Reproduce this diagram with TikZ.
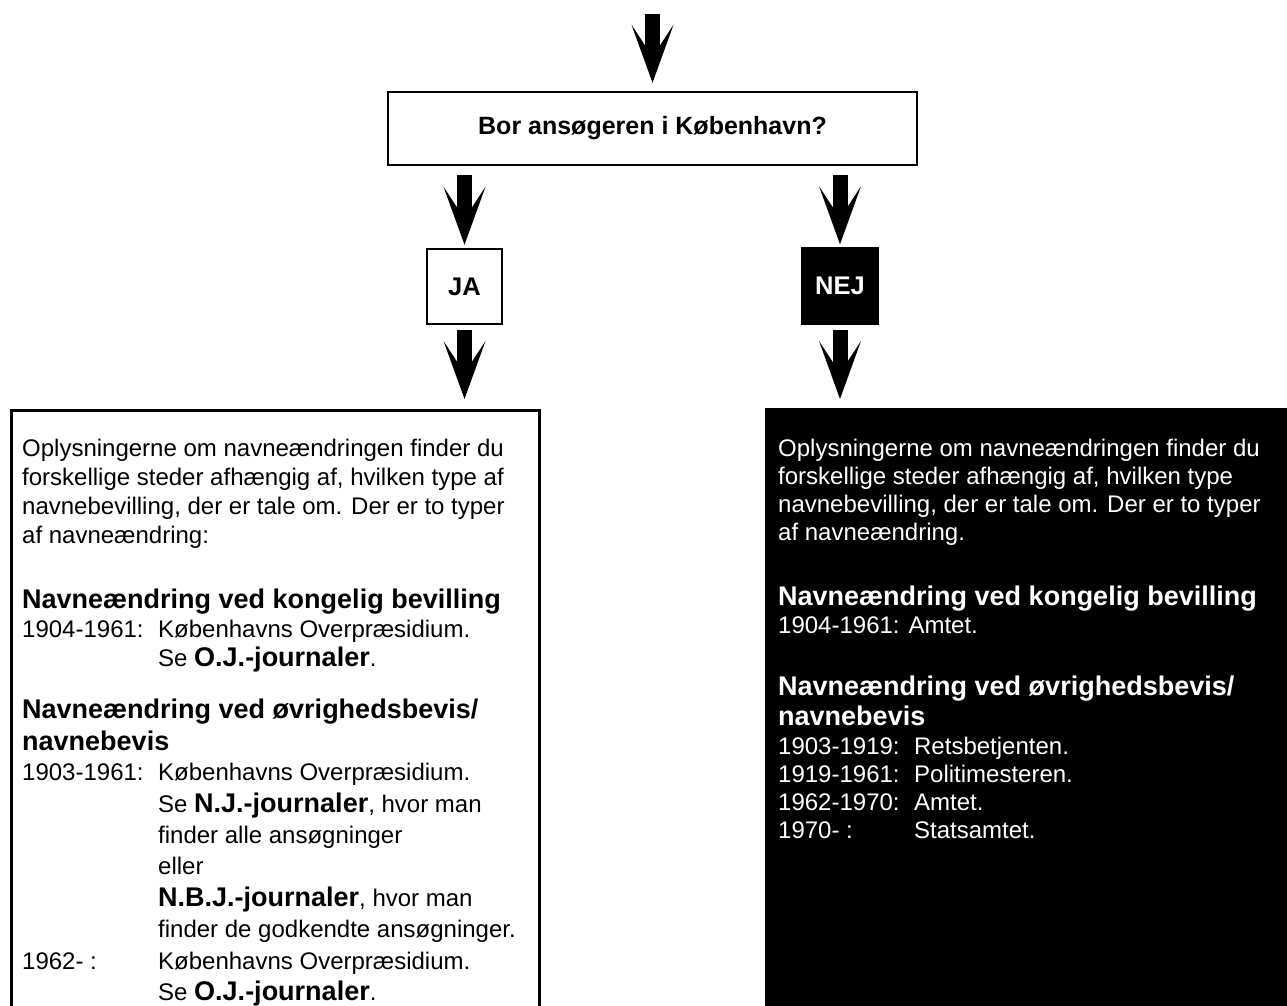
\documentclass[tikz,border=0pt]{standalone}
\usepackage{fontspec}
\setmainfont{Liberation Sans}
\usetikzlibrary{positioning,arrows.meta}

\newcommand{\yearcol}[1]{\makebox[136pt][l]{#1}}
\newcommand{\headtxt}{\fontsize{27}{30}\selectfont\bfseries}
\newcommand{\bodytxt}{\fontsize{24}{29}\selectfont}

\begin{document}
\begin{tikzpicture}[x=1pt,y=1pt,
    question/.style={draw, line width=2.5pt, minimum width=529pt, minimum height=73pt, font=\fontsize{25}{28}\selectfont\bfseries},
    answer/.style={draw, line width=2.5pt, minimum width=75pt, minimum height=75pt, inner sep=0pt, font=\fontsize{25.5}{28}\selectfont\bfseries},
    infobox/.style={anchor=north west, minimum width=528pt, minimum height=640pt, line width=2.5pt},
    infotext/.style={anchor=north west, inner sep=0pt, align=left, font=\bodytxt},
    fatarrow/.style={line width=15pt, -{Stealth[length=58pt, width=42pt, inset=32pt, line width=0pt]}}
  ]
  \clip (0,0) rectangle (1287,-1006);

  \node[question] (qbox) at (652.5,-128.5) {Bor ansøgeren i København?};
  \coordinate (start) at (652.5,-14);

  \node[answer] (ja) at (464.5,-286.5) {JA};
  \node[answer, fill=black, text=white] (nej) at (840,-286) {NEJ};

  \node[infobox, draw] (jainfo) at (10,-409) {};
  \node[infobox, fill=black, minimum width=540pt] (nejinfo) at (764,-407) {};

  \node[infotext, below right=30pt and 12pt of jainfo.north west] (jatext) {%
    Oplysningerne om navneændringen finder du\\
    forskellige steder afhængig af, hvilken type af\\
    navnebevilling, der er tale om. Der er to typer\\
    af navneændring:\\[36pt]
    {\headtxt Navneændring ved kongelig bevilling}\\
    \yearcol{1904-1961:}Københavns Overpræsidium.\\
    \yearcol{}Se {\headtxt O.J.-journaler}.\\[23pt]
    {\headtxt Navneændring ved øvrighedsbevis/}\\[3pt]
    {\headtxt navnebevis}\\[1pt]
    \yearcol{1903-1961:}Københavns Overpræsidium.\\[2.4pt]
    \yearcol{}Se {\headtxt N.J.-journaler}, hvor man\\[2.4pt]
    \yearcol{}finder alle ansøgninger\\[2.4pt]
    \yearcol{}eller\\[2.4pt]
    \yearcol{}{\headtxt N.B.J.-journaler}, hvor man\\[2.4pt]
    \yearcol{}finder de godkendte ansøgninger.\\[2.4pt]
    \yearcol{1962- :}Københavns Overpræsidium.\\[2.4pt]
    \yearcol{}Se {\headtxt O.J.-journaler}.};

  \node[infotext, text=white, font=\fontsize{24}{28}\selectfont,
        below right=32pt and 14pt of nejinfo.north west] (nejtext) {%
    Oplysningerne om navneændringen finder du\\
    forskellige steder afhængig af, hvilken type\\
    navnebevilling, der er tale om. Der er to typer\\
    af navneændring.\\[37pt]
    {\headtxt Navneændring ved kongelig bevilling}\\
    1904-1961: Amtet.\\[34pt]
    {\headtxt Navneændring ved øvrighedsbevis/}\\[2pt]
    {\headtxt navnebevis}\\[1pt]
    \yearcol{1903-1919:}Retsbetjenten.\\
    \yearcol{1919-1961:}Politimesteren.\\
    \yearcol{1962-1970:}Amtet.\\
    \yearcol{1970- :}Statsamtet.};

  \draw[fatarrow, shorten >=8pt] (start) -- (qbox.north);
  \draw[fatarrow, shorten <=9pt, shorten >=3pt] (ja.north |- qbox.south) -- (ja.north);
  \draw[fatarrow, shorten <=5pt, shorten >=10pt] (ja.south) -- (ja.south |- jainfo.north);
  \draw[fatarrow, shorten <=9pt, shorten >=3pt] (nej.north |- qbox.south) -- (nej.north);
  \draw[fatarrow, shorten <=5pt, shorten >=8pt] (nej.south) -- (nej.south |- nejinfo.north);
\end{tikzpicture}
\end{document}
